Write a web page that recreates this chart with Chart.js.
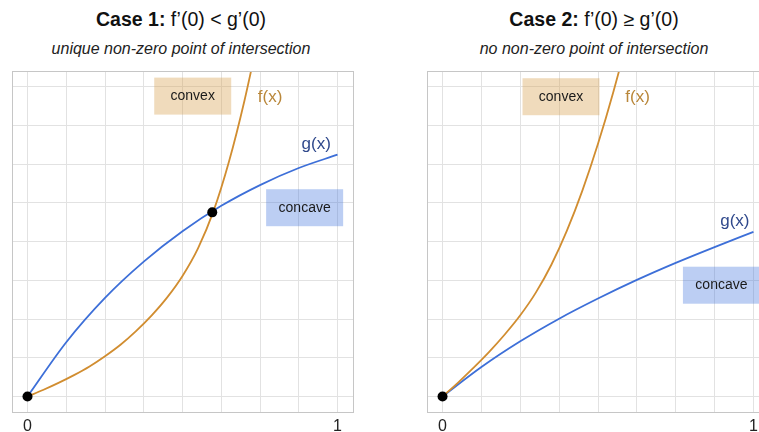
<!DOCTYPE html>
<html>
<head>
<meta charset="utf-8">
<script src="https://cdn.jsdelivr.net/npm/chart.js@4"></script>
<style>
    html, body { margin: 0; padding: 0; background: #fff; overflow: hidden; }
    body { width: 759px; height: 432px; position: relative; font-family: "Liberation Sans", Arial, sans-serif; }
    canvas { position: absolute; top: 0; }
    .title { position: absolute; width: 360px; text-align: center; color: #111; font-size: 19.5px; line-height: 24px; white-space: nowrap; }
    .subtitle { position: absolute; width: 360px; text-align: center; color: #222; font-size: 16px; line-height: 20px; font-style: italic; white-space: nowrap; }
</style>
</head>
<body>
<div class="title" style="left:1px; top:7px;"><b>Case 1:</b> f’(0) &lt; g’(0)</div>
<div class="subtitle" style="left:1px; top:39px;">unique non-zero point of intersection</div>
<div class="title" style="left:414px; top:7px;"><b>Case 2:</b> f’(0) ≥ g’(0)</div>
<div class="subtitle" style="left:414px; top:39px;">no non-zero point of intersection</div>
<canvas id="case1" width="380" height="432" style="left:0px;"></canvas>
<canvas id="case2" width="380" height="432" style="left:416px;"></canvas>
<script>
// grid and tick values (both axes)
const gridTicks = [0, 0.125, 0.25, 0.375, 0.5, 0.625, 0.75, 0.875, 1];
const labelTicks = [0, 1];

// case 1: f'(0) < g'(0)
const case1GX = [0, 0.125, 0.25, 0.375, 0.5, 0.625, 0.75, 0.875, 1];
const case1G = [0, 0.175, 0.318, 0.435, 0.533, 0.615, 0.682, 0.737, 0.78];
const case1FX = [0, 0.05, 0.1, 0.15, 0.2, 0.25, 0.3, 0.35, 0.4, 0.45, 0.5, 0.55, 0.6, 0.65, 0.7, 0.75];
const case1F = [0, 0.021, 0.044, 0.069, 0.097, 0.13, 0.167, 0.211, 0.261, 0.319, 0.389, 0.478, 0.598, 0.758, 0.955, 1.185];
const case1DotsX = [0, 0.596];
const case1DotsY = [0, 0.594];

// case 2: f'(0) >= g'(0)
const case2GX = [0, 0.125, 0.25, 0.375, 0.5, 0.625, 0.75, 0.875, 1];
const case2G = [0, 0.095, 0.178, 0.251, 0.316, 0.376, 0.431, 0.482, 0.531];
const case2FX = [0, 0.05, 0.1, 0.15, 0.2, 0.25, 0.3, 0.35, 0.4, 0.45, 0.5, 0.55, 0.6, 0.65];
const case2F = [0, 0.045, 0.093, 0.144, 0.2, 0.262, 0.335, 0.425, 0.535, 0.665, 0.815, 0.985, 1.175, 1.385];
const case2DotsX = [0];
const case2DotsY = [0];

const F_COLOR = '#d18d30';
const G_COLOR = '#3d6fd8';

const toPoints = (xs, ys) => xs.map((x, i) => ({ x: x, y: ys[i] }));

const notesPlugin = {
    id: 'notes',
    beforeDatasetsDraw(chart, args, opts) {
        const { ctx, scales: { x, y } } = chart;
        ctx.save();
        (opts.boxes || []).forEach(b => {
            const cx = x.getPixelForValue(b.x);
            const cy = y.getPixelForValue(b.y);
            ctx.fillStyle = b.fill;
            ctx.fillRect(cx - b.w / 2, cy - b.h / 2, b.w, b.h);
            ctx.fillStyle = '#1a1a1a';
            ctx.font = '14px "Liberation Sans", Arial, sans-serif';
            ctx.textAlign = 'center';
            ctx.textBaseline = 'middle';
            ctx.fillText(b.text, cx, cy);
        });
        ctx.restore();
    },
    afterDatasetsDraw(chart, args, opts) {
        const { ctx, scales: { x, y } } = chart;
        ctx.save();
        (opts.labels || []).forEach(l => {
            ctx.fillStyle = l.color;
            ctx.font = '17px "Liberation Sans", Arial, sans-serif';
            ctx.textAlign = 'left';
            ctx.textBaseline = 'middle';
            ctx.fillText(l.text, x.getPixelForValue(l.x), y.getPixelForValue(l.y));
        });
        const a = chart.chartArea;
        ctx.strokeStyle = '#c6c6c6';
        ctx.lineWidth = 1;
        ctx.strokeRect(Math.round(a.left) + 0.5, Math.round(a.top) + 0.5,
            Math.round(a.right - a.left), Math.round(a.bottom - a.top));
        ctx.restore();
    }
};

function makeChart(id, fPts, gPts, dots, notes, pad) {
    return new Chart(document.getElementById(id), {
        type: 'line',
        data: {
            datasets: [
                {
                    label: 'dots', data: dots, showLine: false,
                    pointRadius: 5, pointHoverRadius: 5,
                    pointBackgroundColor: '#000', pointBorderWidth: 0
                },
                {
                    label: 'f(x)', data: fPts, borderColor: F_COLOR, borderWidth: 1.8,
                    pointRadius: 0, cubicInterpolationMode: 'monotone'
                },
                {
                    label: 'g(x)', data: gPts, borderColor: G_COLOR, borderWidth: 1.8,
                    pointRadius: 0, cubicInterpolationMode: 'monotone'
                }
            ]
        },
        options: {
            responsive: false,
            animation: false,
            events: [],
            layout: { padding: pad },
            plugins: {
                legend: { display: false },
                tooltip: { enabled: false },
                notes: notes
            },
            scales: {
                x: {
                    type: 'linear', min: -0.05, max: 1.05,
                    afterBuildTicks: s => { s.ticks = gridTicks.map(v => ({ value: v })); },
                    afterFit: s => { s.height = 20; },
                    border: { display: false },
                    grid: { color: '#e2e2e2', lineWidth: 1, drawTicks: false },
                    ticks: {
                        autoSkip: false, maxRotation: 0, padding: 5,
                        color: '#222',
                        font: { family: '"Liberation Sans", Arial, sans-serif', size: 16 },
                        callback: v => labelTicks.includes(v) ? String(v) : ''
                    }
                },
                y: {
                    type: 'linear', min: -0.05, max: 1.05,
                    afterBuildTicks: s => { s.ticks = gridTicks.map(v => ({ value: v })); },
                    afterFit: s => { s.width = 0; },
                    border: { display: false },
                    grid: { color: '#e2e2e2', lineWidth: 1, drawTicks: false },
                    ticks: { display: false }
                }
            }
        },
        plugins: [notesPlugin]
    });
}

makeChart('case1',
    toPoints(case1FX, case1F),
    toPoints(case1GX, case1G),
    toPoints(case1DotsX, case1DotsY),
    {
        boxes: [
            { x: 0.533, y: 0.969, w: 77, h: 37, fill: 'rgba(215,160,80,0.38)', text: 'convex' },
            { x: 0.894, y: 0.609, w: 77, h: 37, fill: 'rgba(60,110,220,0.34)', text: 'concave' }
        ],
        labels: [
            { x: 0.743, y: 0.964, text: 'f(x)', color: '#b9873a' },
            { x: 0.884, y: 0.812, text: 'g(x)', color: '#30498c' }
        ]
    },
    { top: 71, left: 12, right: 27, bottom: 0 });

makeChart('case2',
    toPoints(case2FX, case2F),
    toPoints(case2GX, case2G),
    toPoints(case2DotsX, case2DotsY),
    {
        boxes: [
            { x: 0.381, y: 0.967, w: 77, h: 37, fill: 'rgba(215,160,80,0.38)', text: 'convex' },
            { x: 0.897, y: 0.359, w: 77, h: 37, fill: 'rgba(60,110,220,0.34)', text: 'concave' }
        ],
        labels: [
            { x: 0.588, y: 0.964, text: 'f(x)', color: '#b9873a' },
            { x: 0.893, y: 0.564, text: 'g(x)', color: '#30498c' }
        ]
    },
    { top: 71, left: 11, right: 27, bottom: 0 });
</script>
</body>
</html>
